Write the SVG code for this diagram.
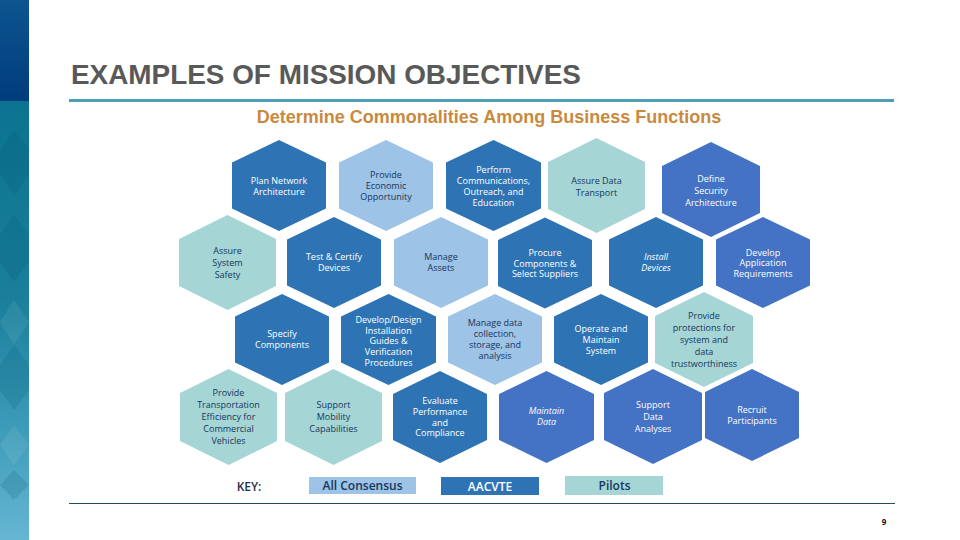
<svg xmlns="http://www.w3.org/2000/svg" width="960" height="540" viewBox="0 0 960 540">
<style>
text{font-family:"Open Sans","Noto Sans","DejaVu Sans",sans-serif;text-anchor:middle}
.l{font-size:9px}
.w{fill:#fff}.k{fill:#17365d}
.i{font-style:italic}
.blue{fill:#2e74b5}.sky{fill:#9dc3e6}.teal{fill:#a5d5d5}.ind{fill:#4472c4}
.key{font-size:12px;font-weight:600}
.dk{fill:#00506e;opacity:.16}.lt{fill:#fff;opacity:.07}
</style>
<defs>
<linearGradient id="navy" x1="0" y1="0" x2="0" y2="1"><stop offset="0" stop-color="#0d5590"/><stop offset="1" stop-color="#003c7c"/></linearGradient>
<linearGradient id="tealbar" x1="0" y1="0" x2="0" y2="1"><stop offset="0" stop-color="#0b7390"/><stop offset=".45" stop-color="#1a7f9b"/><stop offset=".75" stop-color="#3d9cb9"/><stop offset="1" stop-color="#66b6d2"/></linearGradient>
</defs>
<rect width="960" height="540" fill="#fff"/>
<rect id="bar-top" x="0" y="0" width="29" height="101" fill="url(#navy)"/>
<rect id="bar-bottom" x="0" y="101" width="29" height="439" fill="url(#tealbar)"/>
<g id="bar-texture">
<polygon class="dk" points="14,130 29,150 29,175 14,195 0,175 0,150"/>
<polygon class="dk" points="14,215 29,235 29,262 14,282 0,262 0,235"/>
<polygon class="dk" points="14,345 29,365 29,390 14,410 0,390 0,365"/>
<polygon class="lt" points="14,300 29,322 14,345 0,322"/>
<polygon class="lt" points="14,425 29,445 14,465 0,445"/>
<polygon class="dk" points="14,470 29,485 14,500 0,485"/>
</g>
<text x="71" y="84" style="font-family:'Liberation Sans',Arial,sans-serif;font-size:27.9px;font-weight:700;text-anchor:start" fill="#595959">EXAMPLES OF MISSION OBJECTIVES</text>
<rect x="69" y="99" width="825" height="3" fill="#4c9fb6"/>
<text x="489" y="122.500" style="font-family:'Liberation Sans',Arial,sans-serif;font-size:18px;font-weight:700" fill="#c98a3e">Determine Commonalities Among Business Functions</text>
<g id="connectors"/>
<g id="n-plan-network"><polygon class="blue" points="279,140 326,162.500 326,208.500 279,231 232,208.500 232,162.500"/><text class="l w"><tspan x="279" y="183.500">Plan Network</tspan><tspan x="279" y="194.500">Architecture</tspan></text></g>
<g id="n-economic"><polygon class="sky" points="386,140 433,162.500 433,208.500 386,231 339,208.500 339,162.500"/><text class="l k"><tspan x="386" y="178">Provide</tspan><tspan x="386" y="189">Economic</tspan><tspan x="386" y="200">Opportunity</tspan></text></g>
<g id="n-perform"><polygon class="blue" points="493.500,140 541,162.500 541,208.500 493.500,231 446,208.500 446,162.500"/><text class="l w"><tspan x="493.500" y="173">Perform</tspan><tspan x="493.500" y="184">Communications,</tspan><tspan x="493.500" y="195">Outreach, and</tspan><tspan x="493.500" y="206">Education</tspan></text></g>
<g id="n-data-transport"><polygon class="teal" points="596.500,138 645,162 645,209 596.500,233 548,209 548,162"/><text class="l k"><tspan x="596.500" y="184">Assure Data</tspan><tspan x="596.500" y="196">Transport</tspan></text></g>
<g id="n-security"><polygon class="ind" points="711,142 760,166 760,213 711,237 662,213 662,166"/><text class="l w"><tspan x="711" y="182">Define</tspan><tspan x="711" y="194">Security</tspan><tspan x="711" y="206">Architecture</tspan></text></g>
<g id="n-system-safety"><polygon class="teal" points="227.500,215 276,239 276,286 227.500,310 179,286 179,239"/><text class="l k"><tspan x="227.500" y="254">Assure</tspan><tspan x="227.500" y="266">System</tspan><tspan x="227.500" y="278">Safety</tspan></text></g>
<g id="n-test"><polygon class="blue" points="334,217 381,239.500 381,285.500 334,308 287,285.500 287,239.500"/><text class="l w"><tspan x="334" y="260">Test &amp; Certify</tspan><tspan x="334" y="271">Devices</tspan></text></g>
<g id="n-assets"><polygon class="sky" points="441,217 488,239.500 488,285.500 441,308 394,285.500 394,239.500"/><text class="l k"><tspan x="441" y="260">Manage</tspan><tspan x="441" y="271">Assets</tspan></text></g>
<g id="n-procure"><polygon class="blue" points="545,217.500 592,240 592,286 545,308.500 498,286 498,240"/><text class="l w"><tspan x="545" y="256">Procure</tspan><tspan x="545" y="266.500">Components &amp;</tspan><tspan x="545" y="277">Select Suppliers</tspan></text></g>
<g id="n-install"><polygon class="blue" points="656,217 703,239.500 703,285.500 656,308 609,285.500 609,239.500"/><text class="l w i"><tspan x="656" y="260">Install</tspan><tspan x="656" y="271">Devices</tspan></text></g>
<g id="n-app-req"><polygon class="ind" points="763,217 810,239.500 810,285.500 763,308 716,285.500 716,239.500"/><text class="l w"><tspan x="763" y="255.500">Develop</tspan><tspan x="763" y="266">Application</tspan><tspan x="763" y="277">Requirements</tspan></text></g>
<g id="n-specify"><polygon class="blue" points="282,294 329,316.500 329,362.500 282,385 235,362.500 235,316.500"/><text class="l w"><tspan x="282" y="337">Specify</tspan><tspan x="282" y="348">Components</tspan></text></g>
<g id="n-develop-design"><polygon class="blue" points="388.500,294 436,316.500 436,362.500 388.500,385 341,362.500 341,316.500"/><text class="l w"><tspan x="388.500" y="323">Develop/Design</tspan><tspan x="388.500" y="333.500">Installation</tspan><tspan x="388.500" y="344">Guides &amp;</tspan><tspan x="388.500" y="355">Verification</tspan><tspan x="388.500" y="366">Procedures</tspan></text></g>
<g id="n-manage-data"><polygon class="sky" points="495,294 542,316.500 542,362.500 495,385 448,362.500 448,316.500"/><text class="l k"><tspan x="495" y="326">Manage data</tspan><tspan x="495" y="337">collection,</tspan><tspan x="495" y="348">storage, and</tspan><tspan x="495" y="359">analysis</tspan></text></g>
<g id="n-operate"><polygon class="blue" points="601,294 648,316.500 648,362.500 601,385 554,362.500 554,316.500"/><text class="l w"><tspan x="601" y="332">Operate and</tspan><tspan x="601" y="343">Maintain</tspan><tspan x="601" y="353.500">System</tspan></text></g>
<g id="n-protections"><polygon class="teal" points="704,292 753,316 753,363 704,387 655,363 655,316"/><text class="l k"><tspan x="704" y="319">Provide</tspan><tspan x="704" y="331">protections for</tspan><tspan x="704" y="343">system and</tspan><tspan x="704" y="355">data</tspan><tspan x="704" y="367">trustworthiness</tspan></text></g>
<g id="n-transportation"><polygon class="teal" points="228.500,369 277,393 277,441 228.500,465 180,441 180,393"/><text class="l k"><tspan x="228.500" y="396">Provide</tspan><tspan x="228.500" y="408">Transportation</tspan><tspan x="228.500" y="420">Efficiency for</tspan><tspan x="228.500" y="432">Commercial</tspan><tspan x="228.500" y="444">Vehicles</tspan></text></g>
<g id="n-mobility"><polygon class="teal" points="333.500,369 382,393 382,441 333.500,465 285,441 285,393"/><text class="l k"><tspan x="333.500" y="408">Support</tspan><tspan x="333.500" y="420">Mobility</tspan><tspan x="333.500" y="432">Capabilities</tspan></text></g>
<g id="n-evaluate"><polygon class="blue" points="440,371 487,394 487,440 440,463 393,440 393,394"/><text class="l w"><tspan x="440" y="404">Evaluate</tspan><tspan x="440" y="415">Performance</tspan><tspan x="440" y="425.500">and</tspan><tspan x="440" y="436">Compliance</tspan></text></g>
<g id="n-maintain"><polygon class="ind" points="546.500,371 594,394 594,440 546.500,463 499,440 499,394"/><text class="l w i"><tspan x="546.500" y="414">Maintain</tspan><tspan x="546.500" y="425">Data</tspan></text></g>
<g id="n-analyses"><polygon class="ind" points="653,369 702,393 702,440 653,464 604,440 604,393"/><text class="l w"><tspan x="653" y="408">Support</tspan><tspan x="653" y="420">Data</tspan><tspan x="653" y="432">Analyses</tspan></text></g>
<g id="n-recruit"><polygon class="ind" points="752,369 799,392 799,438 752,461 705,438 705,392"/><text class="l w"><tspan x="752" y="413">Recruit</tspan><tspan x="752" y="424">Participants</tspan></text></g>
<g id="key">
<text class="key" x="249" y="491" fill="#1f2f46">KEY:</text>
<rect class="sky" x="309" y="477" width="107" height="17"/><text class="key k" x="362.500" y="490">All Consensus</text>
<rect class="blue" x="441" y="477" width="98" height="18"/><text class="key w" x="490" y="491">AACVTE</text>
<rect class="teal" x="565" y="476" width="98" height="19"/><text class="key k" x="614.500" y="490">Pilots</text>
</g>
<rect x="69" y="503" width="826" height="1" fill="#1f4e5f"/>
<text x="884" y="525" style="font-size:8px;font-weight:700" fill="#111">9</text>
</svg>
